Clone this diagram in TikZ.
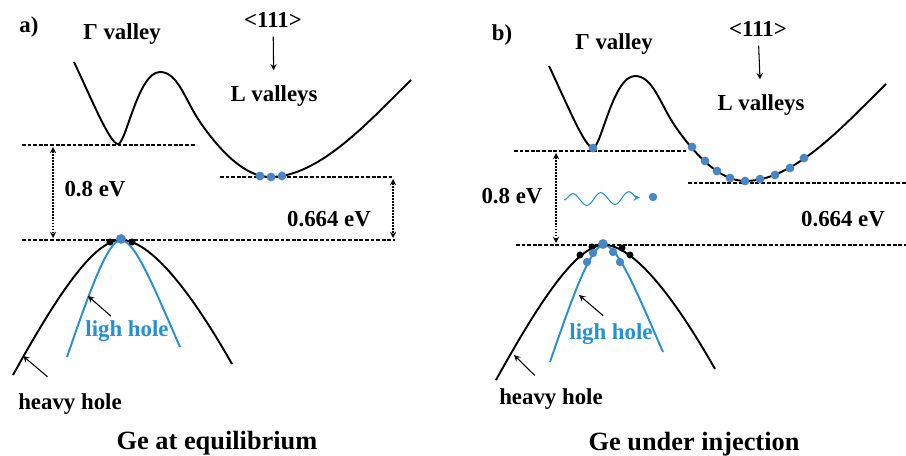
\documentclass[tikz,border=0pt]{standalone}
\usepackage{fontspec}
\setmainfont{Liberation Serif}
\usetikzlibrary{decorations.pathmorphing}
\definecolor{holeblue}{RGB}{36,145,212}
\definecolor{dotblue}{RGB}{72,134,198}

\begin{document}
\begin{tikzpicture}[x=0.02cm,y=-0.02cm,font=\bfseries\fontsize{13}{15}\selectfont,>=stealth,
  band/.style={line width=1.1pt,line join=round},
  level/.style={line width=0.6pt,dash pattern=on 2.2pt off 1pt},
  gap/.style={<->,line width=0.6pt,dash pattern=on 1pt off 0.7pt},
  pointer/.style={->,line width=0.6pt},
  lab/.style={inner sep=1pt},
  title/.style={inner sep=1pt,font=\bfseries\fontsize{15}{18}\selectfont},
  edot/.style={circle,fill=dotblue,inner sep=0pt,minimum size=4.8pt}]
  \useasboundingbox (0,0) rectangle (906,456);
  \foreach \dx/\dy in {0/0,475/4}
    {\draw[band,shift={(\dx,\dy)}] (74,62) .. controls (92,100) and (110,144) .. (118,144)
       .. controls (126,144) and (138,72) .. (160,72) .. controls (178,72) and (185,100) .. (200,122)
       .. controls (220,151) and (245,177) .. (270,177) .. controls (320,177) and (370,120) .. (411,80);}
  \foreach \dx/\dy in {0/0,483/5}
    {\draw[band,shift={(\dx,\dy)}] (13,375) .. controls (60,290) and (95,240) .. (121,240)
       .. controls (150,240) and (190,290) .. (232,364);
     \draw[band,holeblue,shift={(\dx,\dy)}] (67,357) .. controls (90,290) and (108,240) .. (121,240)
       .. controls (135,240) and (155,290) .. (180,347);}
  \draw[level] (22,145) -- (195,145);
  \draw[level] (220,177) -- (392,177);
  \draw[level] (22,240) -- (395,240);
  \draw[level] (514,151) -- (686,151);
  \draw[level] (688,183) -- (906,183);
  \draw[level] (516,245) -- (906,245);
  \coordinate (gtA) at (53,147);
  \coordinate (vtA) at (53,238);
  \coordinate (ltA) at (393,179);
  \coordinate (vrA) at (393,238);
  \coordinate (gtB) at (556,153);
  \coordinate (vtB) at (556,243);
  \draw[gap] (gtA) -- (vtA);
  \draw[gap] (ltA) -- (vrA);
  \draw[gap] (gtB) -- (vtB);
  \foreach \x/\y in {260/176,271/177,282/176,593/148,692/147,705/161,717/171,730/178,745/181,760/179,775/175,790/168,804/158}
    {\fill[dotblue] (\x,\y) circle[radius=2.5pt];}
  \foreach \x/\y in {110/242,132/242,592/247,622/248,580/255,630/255}
    {\fill[black] (\x,\y) circle[radius=2pt];}
  \foreach \x/\y in {593/253,613/252,587/262,620/262}
    {\fill[dotblue] (\x,\y) circle[radius=2.4pt];}
  \fill[dotblue] (121,239) circle[radius=2.8pt];
  \fill[dotblue] (603,244) circle[radius=2.8pt];
  \node[lab] (panA) at (29,27) {a)};
  \node[lab] (gamA) at (122,34) {Γ valley};
  \node[lab] (dirA) at (273,20) {<111>};
  \node[lab] (lvalA) at (274,96) {L valleys};
  \node[lab] (gapA) at (95,189) {0.8 eV};
  \node[lab] (lgapA) at (329,219) {0.664 eV};
  \node[lab,holeblue] (lhA) at (127,331) {ligh hole};
  \node[lab] (hhA) at (70,404) {heavy hole};
  \node[title] (titleA) at (217,443) {Ge at equilibrium};
  \node[lab] (panB) at (502,35) {b)};
  \node[lab] (gamB) at (614,44) {Γ valley};
  \node[lab] (dirB) at (758,29) {<111>};
  \node[lab] (lvalB) at (761,105) {L valleys};
  \node[lab] (gapB) at (512,196) {0.8 eV};
  \node[lab] (lgapB) at (843,219) {0.664 eV};
  \node[lab,holeblue] (lhB) at (611,334) {ligh hole};
  \node[lab] (hhB) at (551,399) {heavy hole};
  \node[title] (titleB) at (694,444) {Ge under injection};
  \draw[pointer,shorten <=4pt,shorten >=7.5pt] (dirA) -- (lvalA);
  \draw[pointer,shorten <=4pt,shorten >=7.5pt] (dirB) -- (lvalB);
  \coordinate (lhtipA) at (88,296);
  \coordinate (hhtipA) at (23,356);
  \coordinate (lhtipB) at (579,295);
  \coordinate (hhtipB) at (514,355);
  \draw[pointer,shorten <=2pt] (lhA.137) -- (lhtipA);
  \draw[pointer,shorten <=13pt] (hhA.112) -- (hhtipA);
  \draw[pointer,shorten <=5pt] (lhB.95) -- (lhtipB);
  \draw[pointer,shorten <=9pt] (hhB.112) -- (hhtipB);
  \node[edot] (eB) at (653,197) {};
  \coordinate (wsB) at (564,200);
  \draw[->,holeblue,line width=0.6pt,shorten >=5pt,decorate,
    decoration={snake,amplitude=3.5pt,segment length=16pt,post length=4pt}] (wsB) -- (eB);
\end{tikzpicture}
\end{document}
